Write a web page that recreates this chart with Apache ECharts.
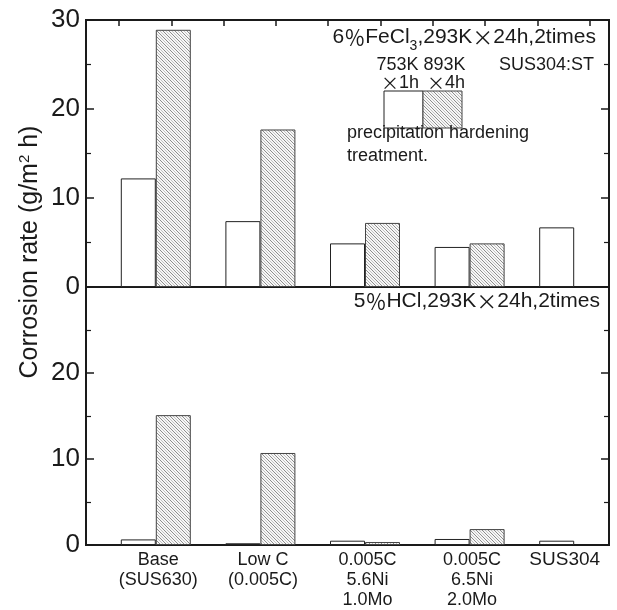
<!DOCTYPE html>
<html>
<head>
<meta charset="utf-8">
<script src="https://cdn.jsdelivr.net/npm/echarts@6/dist/echarts.min.js"></script>
<style>html,body{margin:0;padding:0;background:#fff;}#c{width:617px;height:610px;}</style>
</head>
<body>
<div id="c"></div>
<script>
// ---- data ----
const categories = ['Base\n(SUS630)', 'Low C\n(0.005C)', '0.005C\n5.6Ni\n1.0Mo', '0.005C\n6.5Ni\n2.0Mo', 'SUS304'];
const treatNames = ['753K×1h', '893K×4h'];
const fecl3_753K = [12.2, 7.4, 4.9, 4.5, 6.7];
const fecl3_893K = [28.9, 17.7, 7.2, 4.9, '-'];
const hcl_753K = [0.65, 0.2, 0.5, 0.7, 0.5];
const hcl_893K = [15.1, 10.7, 0.35, 1.85, '-'];
const yMin = 0, yMax = 30, yStep = 10;

const FONT = '"Liberation Sans", Arial, "Noto Sans CJK JP", sans-serif';
const JFONT = '"Noto Sans CJK JP", "Liberation Sans", sans-serif';
const INK = '#1a1a1a';

function makePattern() {
  const n = 6;
  const c = document.createElement('canvas');
  c.width = n; c.height = n;
  const g = c.getContext('2d');
  g.fillStyle = '#f7f7f7'; g.fillRect(0, 0, n, n);
  g.fillStyle = '#8c8c8c';
  for (let i = 0; i < n; i++) g.fillRect(i, i, 1, 1);
  g.fillStyle = '#c4c4c4';
  for (let i = 0; i < n; i++) g.fillRect((i + 3) % n, i, 1, 1);
  return c;
}
const pattern = { image: makePattern(), repeat: 'repeat' };
const whiteStyle = { color: '#ffffff', borderColor: '#222', borderWidth: 1 };
const hatchStyle = { color: pattern, borderColor: '#444', borderWidth: 1 };

function yAxisFor(grid, pos, showLabels, hideTop) {
  return {
    type: 'value', gridIndex: grid, position: pos, min: yMin, max: yMax, interval: yStep,
    axisLine: { show: false },
    axisTick: { show: true, inside: true, length: 8, lineStyle: { color: INK, width: 1.5 } },
    minorTick: { show: true, splitNumber: 2, length: 5, lineStyle: { color: INK, width: 1.2 } },
    splitLine: { show: false },
    axisLabel: {
      show: showLabels, fontSize: 26, color: INK, margin: 6, fontFamily: FONT,
      formatter: v => (hideTop && v === yMax) ? '' : String(v)
    }
  };
}

const series = [];
[[fecl3_753K, fecl3_893K], [hcl_753K, hcl_893K]].forEach((pair, g) => {
  series.push({ type: 'bar', name: 'spacer', xAxisIndex: g, yAxisIndex: g * 2, barWidth: 35, barGap: 0,
    data: categories.map(() => '-'), silent: true });
  series.push({ type: 'bar', name: treatNames[0], xAxisIndex: g, yAxisIndex: g * 2, barWidth: 35, barGap: 0,
    data: pair[0], itemStyle: whiteStyle, silent: true });
  series.push({ type: 'bar', name: treatNames[1], xAxisIndex: g, yAxisIndex: g * 2, barWidth: 35, barGap: 0,
    data: pair[1], itemStyle: hatchStyle, silent: true });
});

const titleRich = {
  n: { fontSize: 21, fontFamily: FONT, fill: INK, verticalAlign: 'bottom', padding: [0, 0, 5, 0] },
  j: { fontSize: 21, fontFamily: JFONT, fill: INK, verticalAlign: 'bottom', padding: [0, 0, 5, 0] },
  s: { fontSize: 14, fontFamily: FONT, fill: INK, verticalAlign: 'bottom' }
};

const chart = echarts.init(document.getElementById('c'), null, { renderer: 'canvas' });
chart.setOption({
  animation: false,
  backgroundColor: '#ffffff',
  textStyle: { fontFamily: FONT, color: INK },
  grid: [
    { left: 86, right: 8, top: 20, height: 267, show: true, borderColor: INK, borderWidth: 2, backgroundColor: 'transparent' },
    { left: 86, right: 8, top: 287, height: 260, show: true, borderColor: INK, borderWidth: 2, backgroundColor: 'transparent' },
    { left: 119, right: 8, top: 14, height: 6 }
  ],
  xAxis: [
    { type: 'category', gridIndex: 0, data: categories, axisLine: { show: false }, axisTick: { show: false }, axisLabel: { show: false } },
    { type: 'category', gridIndex: 1, data: categories, axisLine: { show: false }, axisTick: { show: false },
      axisLabel: {
        interval: 0, margin: 5, color: INK, fontFamily: FONT, fontSize: 18, lineHeight: 20,
        formatter: (v, i) => (i === categories.length - 1 ? '{b|' : '{a|') + v + '}',
        rich: {
          a: { fontSize: 18, lineHeight: 20, fontFamily: FONT, color: INK, padding: [0, 0, 0, 40] },
          b: { fontSize: 19, lineHeight: 20, fontFamily: FONT, color: INK, padding: [0, 0, 0, 16] }
        }
      } },
    { type: 'value', gridIndex: 2, position: 'top', min: 0, max: 9.37, interval: 1,
      axisLine: { show: false },
      axisLabel: { show: false }, splitLine: { show: false },
      axisTick: { show: true, inside: true, length: 6, lineStyle: { color: INK, width: 1.5 } } }
  ],
  yAxis: [
    yAxisFor(0, 'left', true, false),
    yAxisFor(0, 'right', false, false),
    yAxisFor(1, 'left', true, true),
    yAxisFor(1, 'right', false, true),
    { type: 'value', gridIndex: 2, show: false, min: 0, max: 1 }
  ],
  series: series,
  graphic: [
    { type: 'text', x: 596, y: 40, style: {
        text: '{n|6}{j|％}{n|FeCl}{s|3}{n|,293K}{j|×}{n|24h,2times}', align: 'right', verticalAlign: 'middle',
        rich: titleRich } },
    { type: 'text', x: 594, y: 65, style: { text: 'SUS304:ST', align: 'right', verticalAlign: 'middle', fontSize: 18, fontFamily: FONT, fill: INK } },
    { type: 'text', x: 421, y: 65, style: { text: '753K 893K', align: 'center', verticalAlign: 'middle', fontSize: 18, fontFamily: FONT, fill: INK } },
    { type: 'text', x: 400, y: 83, style: { text: '{j|×}{n|1h}', align: 'center', verticalAlign: 'middle',
        rich: { n: { fontSize: 18, fontFamily: FONT, fill: INK }, j: { fontSize: 18, fontFamily: JFONT, fill: INK } } } },
    { type: 'text', x: 446, y: 83, style: { text: '{j|×}{n|4h}', align: 'center', verticalAlign: 'middle',
        rich: { n: { fontSize: 18, fontFamily: FONT, fill: INK }, j: { fontSize: 18, fontFamily: JFONT, fill: INK } } } },
    { type: 'rect', shape: { x: 384, y: 91, width: 39, height: 37 }, style: { fill: '#fff', stroke: '#222', lineWidth: 1 } },
    { type: 'rect', shape: { x: 423, y: 91, width: 39, height: 37 }, style: { fill: pattern, stroke: '#444', lineWidth: 1 } },
    { type: 'text', x: 347, y: 145, style: { text: 'precipitation hardening\ntreatment.', align: 'left', verticalAlign: 'middle', fontSize: 18, lineHeight: 23, fontFamily: FONT, fill: INK } },
    { type: 'text', x: 600, y: 304, style: {
        text: '{n|5}{j|％}{n|HCl,293K}{j|×}{n|24h,2times}', align: 'right', verticalAlign: 'middle',
        rich: titleRich } },
    { type: 'text', x: 30, y: 252, rotation: Math.PI / 2, style: {
        text: '{n|Corrosion rate (g/m}{p|2}{n| h)}', align: 'center', verticalAlign: 'middle',
        rich: { n: { fontSize: 25, fontFamily: FONT, fill: INK, verticalAlign: 'bottom' },
                p: { fontSize: 15, fontFamily: FONT, fill: INK, verticalAlign: 'bottom', padding: [0, 0, 11, 0] } } } }
  ]
});
</script>
</body>
</html>
